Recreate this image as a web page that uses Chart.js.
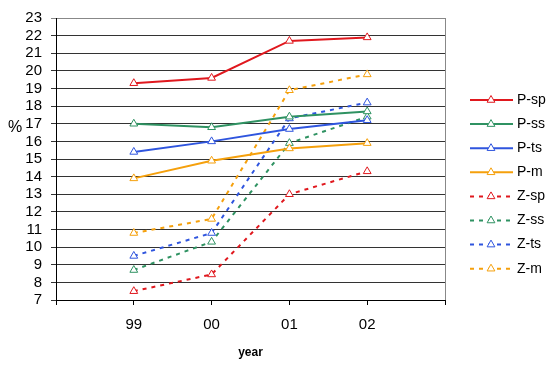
<!DOCTYPE html>
<html>
<head>
<meta charset="utf-8">
<script src="https://cdn.jsdelivr.net/npm/chart.js@4.4.1/dist/chart.umd.min.js"></script>
<style>
  body { margin: 0; background: #fff; }
</style>
</head>
<body>
<canvas id="chart" width="554" height="365"></canvas>
<script>
// years on the x axis (blank slots at both ends, as in the original)
const years = ['99', '00', '01', '02'];
const yTicks = { min: 7, max: 23, step: 1 };

// P series (solid lines)
const pSp = [19.3, 19.6, 21.7, 21.9];
const pSs = [17.0, 16.8, 17.4, 17.7];
const pTs = [15.4, 16.0, 16.7, 17.2];
const pM  = [13.9, 14.9, 15.6, 15.9];

// Z series (dashed lines)
const zSp = [7.5, 8.45, 13.0, 14.3];
const zSs = [8.7, 10.3, 15.9, 17.4];
const zTs = [9.5, 10.8, 17.3, 18.2];
const zM  = [10.8, 11.6, 18.9, 19.8];

const red = '#e0181e', green = '#2f9262', blue = '#2f55de', orange = '#f5a00c';

function pad(arr) { return [null].concat(arr, [null]); }

function series(label, data, color, dashed) {
    return {
        label: label,
        data: pad(data),
        borderColor: color,
        backgroundColor: '#fff',
        borderWidth: 2,
        borderDash: dashed ? [4, 5] : [],
        pointStyle: 'triangle',
        pointRadius: 4.5,
        pointBorderWidth: 1,
        pointBorderColor: color,
        pointBackgroundColor: '#fff',
        tension: 0
    };
}

// legend + axis titles + right frame line
const extras = {
    id: 'extras',
    afterDraw(chart) {
        const ctx = chart.ctx;
        const area = chart.chartArea;
        ctx.save();
        // right frame
        ctx.strokeStyle = '#888';
        ctx.lineWidth = 1;
        ctx.beginPath();
        ctx.moveTo(Math.round(area.right) + 0.5, area.top);
        ctx.lineTo(Math.round(area.right) + 0.5, area.bottom);
        ctx.stroke();

        // axis titles
        ctx.fillStyle = '#000';
        ctx.font = '16px "Liberation Sans", Arial, sans-serif';
        ctx.textAlign = 'center';
        ctx.textBaseline = 'middle';
        ctx.fillText('%', 15, 128);
        ctx.font = 'bold 12px "Liberation Sans", Arial, sans-serif';
        ctx.fillText('year', (area.left + area.right) / 2, 353);

        // legend
        ctx.font = '14px "Liberation Sans", Arial, sans-serif';
        ctx.textAlign = 'left';
        chart.data.datasets.forEach(function (ds, i) {
            const y = 100 + i * 24.1;
            ctx.strokeStyle = ds.borderColor;
            ctx.lineWidth = 2;
            ctx.setLineDash(ds.borderDash);
            ctx.beginPath();
            ctx.moveTo(470, y);
            ctx.lineTo(513, y);
            ctx.stroke();
            ctx.setLineDash([]);
            ctx.lineWidth = 1;
            ctx.fillStyle = '#fff';
            const r = 4.5;
            ctx.beginPath();
            ctx.moveTo(491, y - r);
            ctx.lineTo(491 + r * 0.866, y + r * 0.5);
            ctx.lineTo(491 - r * 0.866, y + r * 0.5);
            ctx.closePath();
            ctx.fill();
            ctx.stroke();
            ctx.fillStyle = '#000';
            ctx.fillText(ds.label, 517, y);
        });
        ctx.restore();
    }
};

new Chart(document.getElementById('chart'), {
    type: 'line',
    data: {
        labels: pad(years).map(function (v) { return v === null ? '' : v; }),
        datasets: [
            series('P-sp', pSp, red, false),
            series('P-ss', pSs, green, false),
            series('P-ts', pTs, blue, false),
            series('P-m', pM, orange, false),
            series('Z-sp', zSp, red, true),
            series('Z-ss', zSs, green, true),
            series('Z-ts', zTs, blue, true),
            series('Z-m', zM, orange, true)
        ]
    },
    options: {
        responsive: false,
        animation: false,
        layout: { padding: { top: 16, right: 109, left: 0, bottom: 0 } },
        plugins: {
            legend: { display: false },
            tooltip: { enabled: false }
        },
        scales: {
            x: {
                offset: false,
                grid: { drawOnChartArea: false, color: '#000', tickLength: 5 },
                border: { color: '#000', width: 1 },
                ticks: {
                    color: '#000',
                    padding: 11,
                    maxRotation: 0,
                    autoSkip: false,
                    font: { family: '"Liberation Sans", Arial, sans-serif', size: 15 }
                },
                afterFit(scale) { scale.height = 65; }
            },
            y: {
                min: yTicks.min,
                max: yTicks.max,
                grid: {
                    color: function (c) { return c.tick && c.tick.value === yTicks.max ? '#888' : '#333'; },
                    tickLength: 5
                },
                border: { color: '#000', width: 1 },
                ticks: {
                    stepSize: yTicks.step,
                    autoSkip: false,
                    color: '#000',
                    padding: 9,
                    font: { family: '"Liberation Sans", Arial, sans-serif', size: 15 }
                },
                afterFit(scale) { scale.width = 56; }
            }
        }
    },
    plugins: [extras]
});
</script>
</body>
</html>
